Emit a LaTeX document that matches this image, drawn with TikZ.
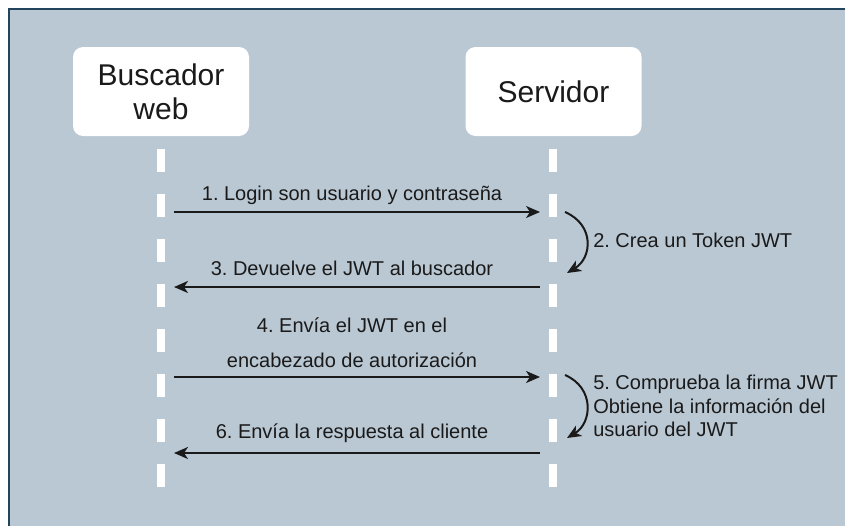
\documentclass[tikz,border=0pt]{standalone}
\usepackage{fontspec}
\setmainfont{Liberation Sans}
\usetikzlibrary{arrows.meta}
\definecolor{canvas}{HTML}{BAC8D3}
\definecolor{outline}{HTML}{23445D}
\definecolor{ink}{HTML}{1A1A1A}
\frenchspacing

\begin{document}
\begin{tikzpicture}[x=0.75pt, y=-0.75pt,
    actor/.style={fill=white, rounded corners=7.5pt, minimum width=132pt,
        minimum height=66.75pt, align=center, text=ink,
        font=\fontsize{22.5}{25.5}\selectfont},
    lifeline/.style={white, line width=6pt, dash pattern=on 17.25pt off 16.5pt},
    msg/.style={-{Stealth[length=10.5pt, width=9pt, inset=3pt]}, line width=1.5pt, ink},
    msglabel/.style={text=ink, inner sep=0pt, font=\fontsize{15}{17.6}\selectfont}]

% Canvas
\useasboundingbox (0,0) rectangle (845,525);
\draw[outline, fill=canvas, line width=1.5pt] (9,9) rectangle (870,550);

% Participants
\node[actor] (brw) at (161,91.5) {Buscador\\web};
\node[actor] (srv) at (553.5,91.5) {Servidor};

% Lifelines
\coordinate (brwtop) at (161,149);
\coordinate (brwend) at (161,490);
\coordinate (srvtop) at (553,149);
\coordinate (srvend) at (553,490);
\draw[lifeline] (brwtop) -- (brwend);
\draw[lifeline] (srvtop) -- (srvend);

% Messages between browser and server
\foreach \y/\n in {212/1, 287/3, 377/4, 453/6} {
    \coordinate (b\n) at (174,\y);
    \coordinate (s\n) at (540,\y);
}
\draw[msg] (b1) -- (s1);
\draw[msg] (s3) -- (b3);
\draw[msg] (b4) -- (s4);
\draw[msg] (s6) -- (b6);

% Self calls on the server
\coordinate (s2a) at (565,212);
\coordinate (s2b) at (567,273);
\coordinate (s5a) at (565,375);
\coordinate (s5b) at (567,438);
\draw[msg] (s2a) .. controls +(30,13) and +(25,-15) .. (s2b);
\draw[msg] (s5a) .. controls +(30,13) and +(25,-15) .. (s5b);

% Labels
\node[msglabel, anchor=base] (m1) at (352,200) {1. Login son usuario y contraseña};
\node[msglabel, anchor=base west] (m2) at (593,247) {2. Crea un Token JWT};
\node[msglabel, anchor=base] (m3) at (352,275) {3. Devuelve el JWT al buscador};
\node[msglabel, align=center, font=\fontsize{15}{26.25}\selectfont] (m4) at (352,343)
    {4. Envía el JWT en el\\encabezado de autorización};
\node[msglabel, align=left, anchor=west] (m5) at (593,406)
    {5. Comprueba la firma JWT\\Obtiene la información del\\usuario del JWT};
\node[msglabel, anchor=base] (m6) at (352,438) {6. Envía la respuesta al cliente};

\end{tikzpicture}
\end{document}
